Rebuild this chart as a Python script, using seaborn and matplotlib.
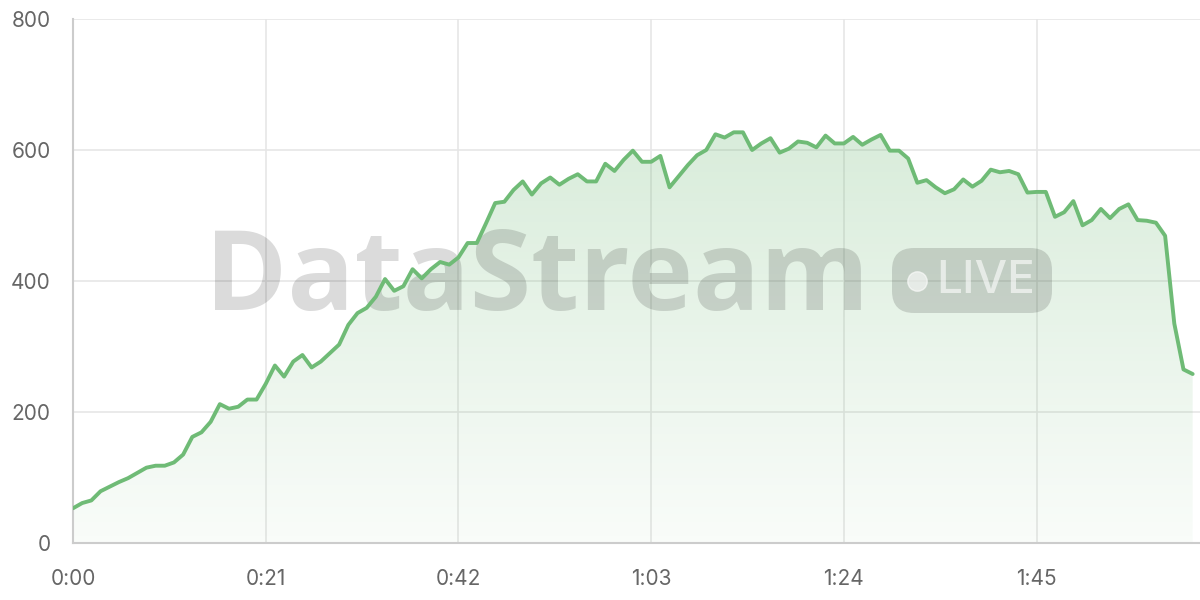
import numpy as np
import pandas as pd
import matplotlib.pyplot as plt
import seaborn as sns
from matplotlib.colors import LinearSegmentedColormap
from matplotlib.patches import FancyBboxPatch
from matplotlib.transforms import IdentityTransform

# values, one per second
viewers = [
    53, 61, 65, 79, 86, 93, 99, 107, 115, 118, 118, 123, 135, 162, 169, 185,
    212, 205, 208, 219, 219, 243, 271, 254, 277, 287,
    268, 277, 290, 303, 333, 351, 359, 376, 403, 385, 392, 418, 404, 418,
    429, 425, 436, 458, 458, 488, 519,
    521, 539, 552, 532, 549, 558, 547, 556, 563, 552, 552, 579, 568, 585,
    599, 582, 582, 591, 543, 560, 577, 592,
    600, 624, 619, 627, 627, 600, 610, 618, 596, 602, 613, 611, 604, 622,
    610, 610, 620, 608, 616, 623, 599, 599,
    587, 550, 554, 543, 534, 540, 555, 544, 553, 570, 566, 568, 563, 535,
    536, 536, 498, 505, 522, 485, 493, 510, 496, 510, 517, 493, 492, 489,
    469, 335, 265, 258,
]
seconds = list(range(len(viewers)))
x_ticks = [0, 21, 42, 63, 84, 105]
y_ticks = [0, 200, 400, 600, 800]

line_color = "#6fbb76"
df = pd.DataFrame({"t": seconds, "v": viewers})

sns.set_theme(style="white")
plt.rcParams["font.family"] = ["Inter", "DejaVu Sans"]

fig = plt.figure(figsize=(12, 6), dpi=100)
ax = fig.add_axes([73 / 1200, 1 - 543 / 600, 1 - 73 / 1200, (543 - 19) / 600])

# gradient fill under the line
fill = ax.fill_between(df["t"], df["v"], 0, color="none", lw=0)
cmap = LinearSegmentedColormap.from_list(
    "g", [(0.42, 0.72, 0.45, 0.04), (0.42, 0.72, 0.45, 0.26)])
grad = np.linspace(0, 1, 256).reshape(-1, 1)
img = ax.imshow(grad, cmap=cmap, aspect="auto", origin="lower",
                extent=[0, max(seconds), 0, max(viewers)], zorder=1)
img.set_clip_path(fill.get_paths()[0], transform=ax.transData)

# watermark (pixel positions, figure is 1200x600)
px = IdentityTransform()
ax.text(205, 290, "DataStream", transform=px, fontsize=80,
        fontweight="bold", color="black", alpha=0.14, ha="left",
        va="baseline", zorder=2, family=["Open Sans", "DejaVu Sans"])
box = FancyBboxPatch((892, 287), 160, 65,
                     boxstyle="round,pad=0,rounding_size=22",
                     transform=px, facecolor="black", alpha=0.14,
                     lw=0, zorder=2)
ax.add_patch(box)
ax.plot([917], [319], "o", ms=14, color="white", alpha=0.6,
        transform=px, zorder=2)
ax.text(936, 319, "LIVE", transform=px, fontsize=33, color="white",
        alpha=0.6, ha="left", va="center", zorder=2, fontweight="medium")

sns.lineplot(data=df, x="t", y="v", ax=ax, color=line_color, lw=2.8,
             zorder=3)

ax.set_xlim(0, 122.8)
ax.set_ylim(0, 800)
ax.set_xticks(x_ticks)
ax.set_xticklabels([f"{t // 60}:{t % 60:02d}" for t in x_ticks])
ax.set_yticks(y_ticks)
ax.set_xlabel("")
ax.set_ylabel("")
ax.grid(True, color="#e6e6e6", lw=1.2)
ax.set_axisbelow(True)
for s in ["top", "right"]:
    ax.spines[s].set_visible(False)
for s in ["left", "bottom"]:
    ax.spines[s].set_color("#cccccc")
    ax.spines[s].set_linewidth(1.5)
ax.tick_params(axis="both", length=11, width=1.2, color="#e6e6e6",
               labelsize=15, labelcolor="#666666")
ax.tick_params(axis="y", pad=5)
ax.tick_params(axis="x", pad=8)

fig.savefig("out.png", dpi=100)
